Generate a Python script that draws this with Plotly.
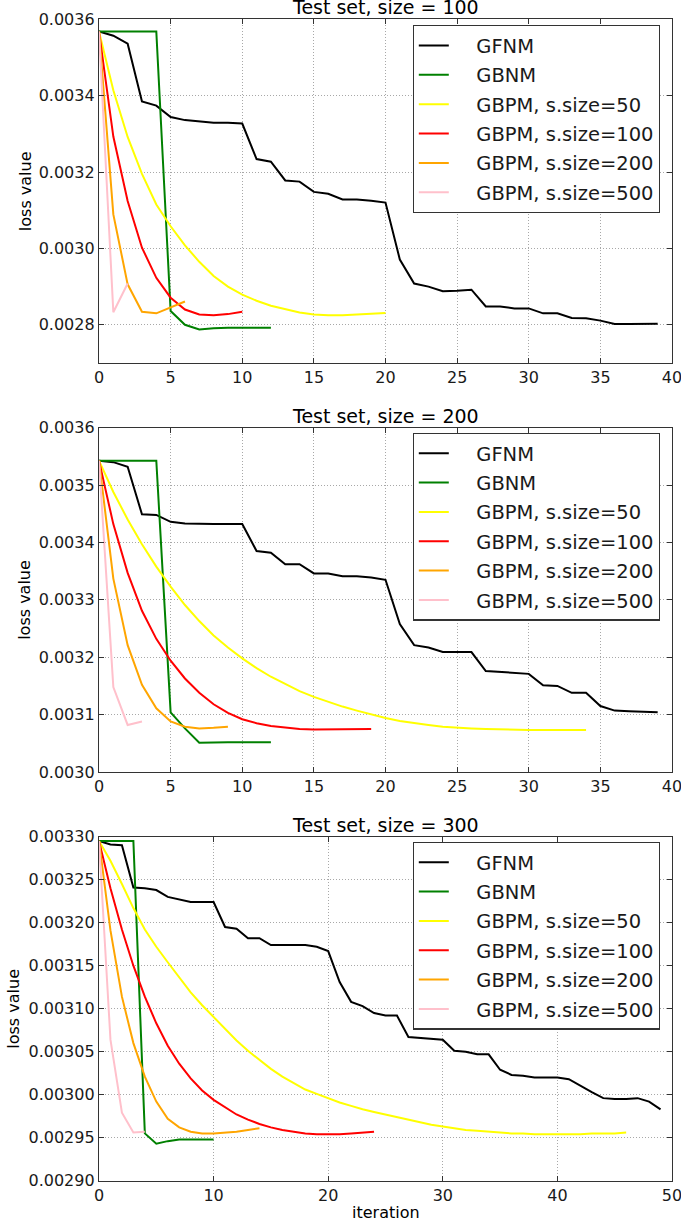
import plotly.graph_objects as go

W, H = 681, 1226

# ---------------- data ----------------
# Test set, size = 100
s1_gfnm = [0.003568, 0.003557, 0.003536, 0.003385, 0.003374, 0.003344, 0.003336, 0.003333, 0.003329, 0.003329,
           0.003327, 0.003234, 0.003227, 0.003178, 0.003175, 0.003148, 0.003143, 0.003128, 0.003128, 0.003125,
           0.003120, 0.002971, 0.002908, 0.002900, 0.002888, 0.002889, 0.002892, 0.002848, 0.002848, 0.002843,
           0.002843, 0.002830, 0.002830, 0.002818, 0.002817, 0.002811, 0.002802, 0.002802, 0.002802, 0.002803]
s1_gbnm = [0.003568, 0.003568, 0.003568, 0.003568, 0.003568, 0.002836, 0.002800, 0.002788, 0.002791, 0.002792,
           0.002792, 0.002792, 0.002792]
s1_p50 = [0.003568, 0.003414, 0.003292, 0.003195, 0.003115, 0.003058, 0.003008, 0.002965, 0.002928, 0.002900,
          0.002879, 0.002863, 0.002850, 0.002840, 0.002832, 0.002827, 0.002825, 0.002825, 0.002827, 0.002829,
          0.002831]
s1_p100 = [0.003568, 0.003293, 0.003124, 0.003002, 0.002923, 0.002871, 0.002840, 0.002827, 0.002825, 0.002828,
           0.002834]
s1_p200 = [0.003568, 0.003089, 0.002906, 0.002834, 0.002830, 0.002845, 0.002861]
s1_p500 = [0.003568, 0.002833, 0.002908]

# Test set, size = 200
s2_gfnm = [0.0035425, 0.003540, 0.003532, 0.003449, 0.003448, 0.003436, 0.003433, 0.003432, 0.003432, 0.003432,
           0.003432, 0.003385, 0.003382, 0.003362, 0.003362, 0.003346, 0.003346, 0.003341, 0.003341, 0.003339,
           0.003335, 0.003258, 0.003221, 0.003217, 0.003209, 0.003209, 0.003209, 0.003176, 0.003174, 0.003173,
           0.003171, 0.003151, 0.003150, 0.003138, 0.003138, 0.003115, 0.003107, 0.003106, 0.003105, 0.003104]
s2_gbnm = [0.0035425, 0.0035425, 0.0035425, 0.0035425, 0.0035425, 0.003104, 0.003076, 0.003051, 0.003052, 0.003052,
           0.003052, 0.003052, 0.003052]
s2_p50 = [0.0035425, 0.003488, 0.003440, 0.003397, 0.003358, 0.003323, 0.003291, 0.003263, 0.003238, 0.003217,
          0.003198, 0.003181, 0.003166, 0.003153, 0.003141, 0.003131, 0.003122, 0.003114, 0.003107, 0.003100,
          0.003094, 0.003089, 0.003085, 0.003082, 0.003079, 0.003077, 0.003076, 0.003075, 0.003074, 0.003073,
          0.003073, 0.003073, 0.003073, 0.003073, 0.003073]
s2_p100 = [0.0035425, 0.003432, 0.003347, 0.003281, 0.003232, 0.003194, 0.003163, 0.003138, 0.003118, 0.003103,
           0.003092, 0.003085, 0.003080, 0.003077, 0.003075, 0.003074, 0.003074, 0.003074, 0.003075, 0.003075]
s2_p200 = [0.0035425, 0.003337, 0.003221, 0.003152, 0.003111, 0.003088, 0.003079, 0.003076, 0.003077, 0.003079]
s2_p500 = [0.0035425, 0.003148, 0.003082, 0.003088]

# Test set, size = 300
s3_gfnm = [0.003295, 0.003291, 0.003290, 0.003241, 0.003240, 0.003238, 0.003230, 0.003227, 0.003224, 0.003224,
           0.003224, 0.003195, 0.003193, 0.003182, 0.003182, 0.003174, 0.003174, 0.003174, 0.003174, 0.003172,
           0.003167, 0.003131, 0.003108, 0.003103, 0.003095, 0.003092, 0.003092, 0.003067, 0.003066, 0.003065,
           0.003064, 0.003051, 0.003050, 0.003047, 0.003047, 0.003029, 0.003023, 0.003022, 0.003020, 0.003020,
           0.003020, 0.003018, 0.003010, 0.003003, 0.002996, 0.002995, 0.002995, 0.002996, 0.002992, 0.002983]
s3_gbnm = [0.003295, 0.003295, 0.003295, 0.003295, 0.002955, 0.002943, 0.002946, 0.002948, 0.002948, 0.002948,
           0.002948]
s3_p50 = [0.003295, 0.003272, 0.003245, 0.003217, 0.003192, 0.003172, 0.003154, 0.003136, 0.003119, 0.003104,
          0.003090, 0.003076, 0.003063, 0.003051, 0.003040, 0.003030, 0.003021, 0.003013, 0.003006, 0.003001,
          0.002996, 0.002991, 0.002987, 0.002983, 0.002980, 0.002977, 0.002974, 0.002971, 0.002968, 0.002965,
          0.002963, 0.002961, 0.002959, 0.002958, 0.002957, 0.002956, 0.002955, 0.002955, 0.002954, 0.002954,
          0.002954, 0.002954, 0.002954, 0.002955, 0.002955, 0.002955, 0.002956]
s3_p100 = [0.003295, 0.003240, 0.003192, 0.003150, 0.003114, 0.003083, 0.003057, 0.003036, 0.003019, 0.003005,
           0.002994, 0.002985, 0.002977, 0.002971, 0.002966, 0.002962, 0.002959, 0.002957, 0.002955, 0.002954,
           0.002954, 0.002954, 0.002955, 0.002956, 0.002957]
s3_p200 = [0.003295, 0.003191, 0.003114, 0.003060, 0.003021, 0.002992, 0.002972, 0.002962, 0.002957, 0.002955,
           0.002955, 0.002956, 0.002957, 0.002959, 0.002961]
s3_p500 = [0.003295, 0.003064, 0.002979, 0.002956, 0.002957]

series_names = ["GFNM", "GBNM", "GBPM, s.size=50", "GBPM, s.size=100", "GBPM, s.size=200", "GBPM, s.size=500"]
series_colors = ["#000000", "#008000", "#ffff00", "#ff0000", "#ffa500", "#ffc0cb"]

titles = ["Test set, size = 100", "Test set, size = 200", "Test set, size = 300"]
panels = [
    [s1_gfnm, s1_gbnm, s1_p50, s1_p100, s1_p200, s1_p500],
    [s2_gfnm, s2_gbnm, s2_p50, s2_p100, s2_p200, s2_p500],
    [s3_gfnm, s3_gbnm, s3_p50, s3_p100, s3_p200, s3_p500],
]
x_ranges = [[0, 40], [0, 40], [0, 50]]
x_ticks = [[0, 5, 10, 15, 20, 25, 30, 35, 40], [0, 5, 10, 15, 20, 25, 30, 35, 40], [0, 10, 20, 30, 40, 50]]
y_ranges = [[0.0027, 0.0036], [0.0030, 0.0036], [0.0029, 0.0033]]
y_ticks = [[0.0028, 0.0030, 0.0032, 0.0034, 0.0036],
           [0.0030, 0.0031, 0.0032, 0.0033, 0.0034, 0.0035, 0.0036],
           [0.00290, 0.00295, 0.00300, 0.00305, 0.00310, 0.00315, 0.00320, 0.00325, 0.00330]]
y_formats = [".4f", ".4f", ".5f"]

# ---------------- layout geometry (pixels) ----------------
plot_left, plot_right = 99, 672
panel_px = [(19.3, 363.0), (427.7, 772.0), (836.7, 1180.7)]
legend_px = [(412.5, 25), (412.5, 432.7), (412.5, 841.7)]

FONT = "DejaVu Sans"
TXT = "#1a1a1a"
fig = go.Figure()
layout = dict(
    width=W, height=H, margin=dict(l=0, r=0, t=0, b=0, autoexpand=False),
    paper_bgcolor="white", plot_bgcolor="white",
    font=dict(family=FONT, size=16, color=TXT),
    annotations=[],
)

PAD = "\u00a0\u00a0\u00a0\u2009"
for i in range(3):
    xa = "x" if i == 0 else f"x{i+1}"
    ya = "y" if i == 0 else f"y{i+1}"
    lg = "legend" if i == 0 else f"legend{i+1}"
    for name, color, vals in zip(series_names, series_colors, panels[i]):
        fig.add_trace(go.Scatter(
            x=list(range(len(vals))), y=vals, mode="lines", name=PAD + name,
            line=dict(color=color, width=2), xaxis=xa, yaxis=ya,
            legend=lg, legendgroup=f"{i}-{name}",
        ))
    top, bot = panel_px[i]
    axis_common = dict(showline=True, linecolor="#333333", linewidth=1.3, mirror="ticks",
                       ticks="inside", ticklen=5, tickcolor="#333333", showgrid=True,
                       gridcolor="#a8a8a8", griddash="1px,2px", gridwidth=1, zeroline=False,
                       automargin=False, ticklabeloverflow="allow",
                       tickfont=dict(family=FONT, size=16, color=TXT))
    layout[("xaxis" if i == 0 else f"xaxis{i+1}")] = dict(
        axis_common, domain=[plot_left / W, plot_right / W], range=x_ranges[i],
        tickvals=x_ticks[i], anchor=ya)
    layout[("yaxis" if i == 0 else f"yaxis{i+1}")] = dict(
        axis_common, domain=[1 - bot / H, 1 - top / H], range=y_ranges[i],
        tickvals=y_ticks[i], tickformat=y_formats[i], anchor=xa)
    lx, ly = legend_px[i]
    layout[lg] = dict(
        x=lx / W, y=1 - ly / H, xanchor="left", yanchor="top",
        bgcolor="white", bordercolor="#333333", borderwidth=1.3,
        font=dict(family=FONT, size=19.5, color=TXT),
        tracegroupgap=1, itemwidth=30,
    )
    layout["annotations"].append(dict(
        text=titles[i], xref="paper", yref="paper", x=(plot_left + plot_right) / 2 / W,
        y=1 - top / H, xanchor="center", yanchor="bottom", yshift=-1, showarrow=False,
        font=dict(family=FONT, size=19, color="#000000")))
    layout["annotations"].append(dict(
        text="loss value", xref="paper", yref="paper", x=(25 if i < 2 else 14) / W,
        y=1 - (top + bot) / 2 / H, xanchor="center", yanchor="middle", textangle=-90,
        showarrow=False, font=dict(family=FONT, size=16, color="#000000")))

layout["annotations"].append(dict(
    text="iteration", xref="paper", yref="paper", x=(plot_left + plot_right) / 2 / W,
    y=1 - 1212 / H, xanchor="center", yanchor="middle", showarrow=False,
    font=dict(family=FONT, size=16, color="#000000")))

fig.update_layout(**layout)
fig.write_html("out.html", config={"displayModeBar": False},
               post_script="document.body.style.margin='0';document.body.style.overflow='hidden';")
